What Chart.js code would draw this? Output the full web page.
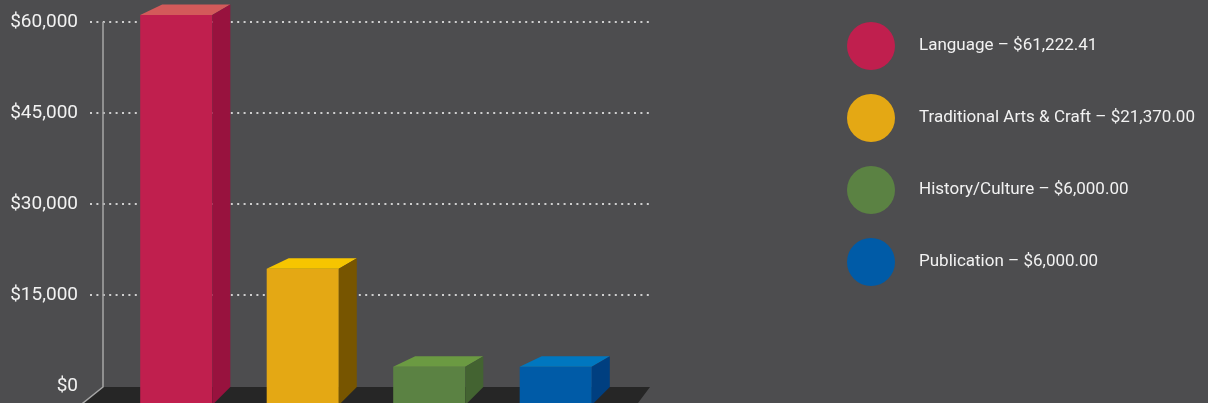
<!DOCTYPE html>
<html>
<head>
<meta charset="utf-8">
<script src="https://cdn.jsdelivr.net/npm/chart.js@4.4.1/dist/chart.umd.min.js"></script>
<style>
  body { margin: 0; background: #4d4d4f; }
  #wrap { width: 1208px; height: 403px; }
</style>
</head>
<body>
<div id="wrap"><canvas id="fundingChart"></canvas></div>
<script>
// Categorías y montos de cada barra
const categories = ['Language', 'Traditional Arts & Craft', 'History/Culture', 'Publication'];
const amounts = [61222.41, 21370.00, 6000.00, 6000.00];
const tickValues = [0, 15000, 30000, 45000, 60000];

// Colores: cara frontal, tapa y costado de cada barra
const frontColors = ['#c01f4e', '#e4a814', '#5b8243', '#005ba7'];
const topColors = ['#d35a5a', '#f6c500', '#6b9a42', '#0077bf'];
const sideColors = ['#98123e', '#775500', '#436331', '#003f80'];

// Profundidad del efecto 3D
const DEPTH_X = 18, DEPTH_X_LEFT = 22, DEPTH_Y = 10.5;
// Pared del fondo
const GRID_LEFT = 90, WALL_LEFT = 103, WALL_RIGHT = 650;

const money = v => '$' + v.toLocaleString('en-US', { minimumFractionDigits: 2, maximumFractionDigits: 2 });

// Plugin para la pared, el piso y las caras 3D
const escena3D = {
    id: 'escena3D',
    beforeDatasetsDraw(chart) {
        const ctx = chart.ctx;
        const y = chart.scales.y;
        const floorY = y.getPixelForValue(0) + 1;
        const topY = y.getPixelForValue(tickValues[tickValues.length - 1]);
        ctx.save();
        // líneas punteadas
        ctx.strokeStyle = '#cfcfcf';
        ctx.lineWidth = 2;
        ctx.setLineDash([2, 4.4]);
        y.ticks.forEach(t => {
            if (t.value === 0) return;
            const py = Math.round(y.getPixelForValue(t.value));
            ctx.beginPath();
            ctx.moveTo(GRID_LEFT, py);
            ctx.lineTo(WALL_RIGHT, py);
            ctx.stroke();
        });
        ctx.setLineDash([]);
        // piso
        const d = 40;
        ctx.fillStyle = '#262626';
        ctx.beginPath();
        ctx.moveTo(WALL_LEFT, floorY);
        ctx.lineTo(WALL_RIGHT, floorY);
        ctx.lineTo(WALL_RIGHT - 0.75 * d, floorY + d);
        ctx.lineTo(WALL_LEFT - 1.25 * d, floorY + d);
        ctx.closePath();
        ctx.fill();
        // borde de la pared
        ctx.strokeStyle = '#a6a6a6';
        ctx.lineWidth = 1.5;
        ctx.beginPath();
        ctx.moveTo(WALL_LEFT, topY);
        ctx.lineTo(WALL_LEFT, floorY);
        ctx.lineTo(WALL_LEFT - 1.25 * d, floorY + d);
        ctx.stroke();
        ctx.restore();
    },
    afterDatasetsDraw(chart) {
        const ctx = chart.ctx;
        const backBase = chart.scales.y.getPixelForValue(0) + 1;
        const meta = chart.getDatasetMeta(0);
        ctx.save();
        meta.data.forEach((bar, i) => {
            const left = bar.x - bar.width / 2;
            const right = bar.x + bar.width / 2;
            const top = bar.y;
            // tapa
            ctx.fillStyle = topColors[i];
            ctx.beginPath();
            ctx.moveTo(left, top);
            ctx.lineTo(left + DEPTH_X_LEFT, top - DEPTH_Y);
            ctx.lineTo(right + DEPTH_X, top - DEPTH_Y);
            ctx.lineTo(right, top);
            ctx.closePath();
            ctx.fill();
            // costado
            ctx.fillStyle = sideColors[i];
            ctx.beginPath();
            ctx.moveTo(right, top);
            ctx.lineTo(right + DEPTH_X, top - DEPTH_Y);
            ctx.lineTo(right + DEPTH_X, backBase);
            ctx.lineTo(right, bar.base);
            ctx.closePath();
            ctx.fill();
        });
        ctx.restore();
    },
    afterDraw(chart) {
        // leyenda con círculos grandes
        const ctx = chart.ctx;
        ctx.save();
        ctx.font = '17px Roboto';
        ctx.textBaseline = 'middle';
        categories.forEach((cat, i) => {
            const cy = 46 + i * 72;
            ctx.fillStyle = frontColors[i];
            ctx.beginPath();
            ctx.arc(871, cy, 24, 0, Math.PI * 2);
            ctx.fill();
            ctx.fillStyle = '#f2f2f2';
            ctx.fillText(cat + ' \u2013 ' + money(amounts[i]), 919, cy);
        });
        ctx.restore();
    }
};

const ctx = document.getElementById('fundingChart').getContext('2d');

const fundingChart = new Chart(ctx, {
    type: 'bar',
    data: {
        labels: categories,
        datasets: [{
            // barras desde 0 hasta el monto (0 queda en el borde delantero del piso)
            data: amounts.map(v => [0, v]),
            yAxisID: 'front',
            backgroundColor: frontColors,
            borderWidth: 0,
            barPercentage: 0.57,
            categoryPercentage: 1,
            clip: false
        }]
    },
    options: {
        responsive: true,
        maintainAspectRatio: false,
        animation: false,
        events: [],
        layout: { padding: { top: 22, bottom: 17, left: 0, right: 589 } },
        plugins: {
            legend: { display: false },
            tooltip: { enabled: false }
        },
        scales: {
            x: { display: false },
            // eje de la pared del fondo (solo etiquetas)
            y: {
                min: 0,
                max: 60000,
                afterBuildTicks: scale => { scale.ticks = tickValues.map(v => ({ value: v })); },
                afterFit: scale => {
                    scale.width = 113;
                    scale.paddingTop = 0;
                    scale.paddingBottom = 0;
                },
                grid: { display: false, drawTicks: false },
                border: { display: false },
                ticks: {
                    padding: 35,
                    color: '#f2f2f2',
                    font: { family: 'Roboto', size: 19 },
                    callback: v => '$' + v.toLocaleString('en-US')
                }
            },
            // plano delantero: el 0 cae debajo de la pared, en el borde del piso
            front: {
                display: false,
                min: 2983,
                max: 60125
            }
        }
    },
    plugins: [escena3D]
});
</script>
</body>
</html>
